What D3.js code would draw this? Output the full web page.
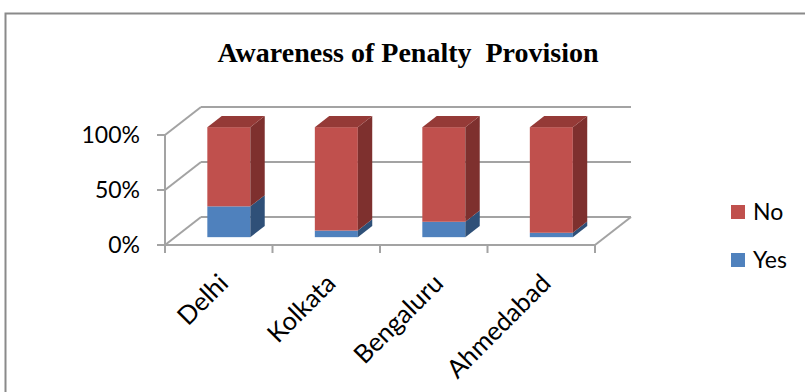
<!DOCTYPE html>
<html><head><meta charset="utf-8">
<script src="https://cdn.jsdelivr.net/npm/d3@7"></script>
<style>body{margin:0;background:#fff}svg{display:block}</style>
</head><body>
<script>
const categories = ["Delhi", "Kolkata", "Bengaluru", "Ahmedabad"];
const yesValues = [28, 6, 14, 4];
const noValues = [72, 94, 86, 96];
const yTicks = [0, 50, 100];
const tickLabels = ["0%", "50%", "100%"];
const seriesNames = ["No", "Yes"];
const title = "Awareness of Penalty  Provision";

const W = 805, H = 392;
const svg = d3.select("body").append("svg").attr("width", W).attr("height", H);

// chart border
svg.append("rect").attr("x", 5.5).attr("y", 13.5).attr("width", 820).attr("height", 400)
  .attr("fill", "none").attr("stroke", "#8a8a8a").attr("stroke-width", 2);

svg.append("text").attr("x", 408).attr("y", 62).attr("text-anchor", "middle")
  .style("white-space", "pre")
  .attr("font-family", "Liberation Serif").attr("font-weight", "bold").attr("font-size", 28)
  .attr("fill", "#000").text(title);

const x0 = 165, x1 = 595;
const x = d3.scaleBand().domain(categories).range([x0, x1]).paddingInner(0.6).paddingOuter(0.3);
const y = d3.scaleLinear().domain([0, 100]).range([245, 135]);
const DX = 36, DY = -28;
const z0 = 0.28, z1 = 0.68;
const grid = "#a3a3a3";

const g = svg.append("g");
// back wall gridlines and left wall
yTicks.forEach(t => {
  g.append("line").attr("x1", x0 + DX).attr("x2", x1 + DX).attr("y1", y(t) + DY).attr("y2", y(t) + DY)
    .attr("stroke", grid).attr("stroke-width", 2);
  g.append("line").attr("x1", x0).attr("x2", x0 + DX).attr("y1", y(t)).attr("y2", y(t) + DY)
    .attr("stroke", grid).attr("stroke-width", 2);
});
// floor front & right edges
g.append("line").attr("x1", x0).attr("x2", x1).attr("y1", y(0)).attr("y2", y(0)).attr("stroke", grid).attr("stroke-width", 2);
g.append("line").attr("x1", x1).attr("x2", x1 + DX).attr("y1", y(0)).attr("y2", y(0) + DY).attr("stroke", grid).attr("stroke-width", 2);
// left axis
g.append("line").attr("x1", x0).attr("x2", x0).attr("y1", y(100)).attr("y2", y(0)).attr("stroke", grid).attr("stroke-width", 2);
yTicks.forEach((t, i) => {
  g.append("line").attr("x1", x0 - 8).attr("x2", x0).attr("y1", y(t)).attr("y2", y(t)).attr("stroke", grid).attr("stroke-width", 2);
  g.append("text").attr("x", 140).attr("y", y(t)).attr("dy", "0.36em").attr("text-anchor", "end")
    .attr("font-family", "Lato").attr("font-size", 23).attr("fill", "#000").text(tickLabels[i]);
});
// x ticks
const step = x.step();
for (let i = 0; i <= categories.length; i++) {
  const tx = x0 + i * step;
  g.append("line").attr("x1", tx).attr("x2", tx).attr("y1", y(0)).attr("y2", y(0) + 8).attr("stroke", grid).attr("stroke-width", 2);
}
categories.forEach((c, i) => {
  const px = x0 + i * step + step / 2 + 11;
  g.append("text").attr("transform", `translate(${px},285) rotate(-45)`).attr("text-anchor", "end")
    .attr("font-family", "Lato").attr("font-size", 25.5).attr("fill", "#000").text(c);
});

// bars
const colors = {
  Yes: { front: "#4F81BD", side: "#2F5078", top: "#3E6699" },
  No: { front: "#C0504D", side: "#7E302E", top: "#953A37" }
};
const fx = DX * z0, fy = DY * z0;
const dDX = DX * (z1 - z0), dDY = DY * (z1 - z0);
const poly = pts => pts.map(p => p.join(",")).join(" ");
categories.forEach((c, i) => {
  const segs = [
    { name: "Yes", lo: 0, hi: yesValues[i] },
    { name: "No", lo: yesValues[i], hi: yesValues[i] + noValues[i] }
  ];
  const xl = x(c) + fx, xr = x(c) + x.bandwidth() + fx;
  segs.forEach((s, k) => {
    const yb = y(s.lo) + fy, yt = y(s.hi) + fy;
    const col = colors[s.name];
    g.append("rect").attr("x", xl).attr("y", yt).attr("width", xr - xl).attr("height", yb - yt).attr("fill", col.front);
    g.append("polygon").attr("points", poly([[xr, yb], [xr + dDX, yb + dDY], [xr + dDX, yt + dDY], [xr, yt]])).attr("fill", col.side);
    if (k === segs.length - 1) {
      g.append("polygon").attr("points", poly([[xl, yt], [xr, yt], [xr + dDX, yt + dDY], [xl + dDX, yt + dDY]])).attr("fill", col.top);
    }
  });
});

// legend
const legendColors = { No: colors.No.front, Yes: colors.Yes.front };
seriesNames.forEach((n, i) => {
  const ly = 205 + i * 48;
  svg.append("rect").attr("x", 731).attr("y", ly).attr("width", 14).attr("height", 14).attr("fill", legendColors[n]);
  svg.append("text").attr("x", 753).attr("y", ly + 14.5).attr("font-family", "Lato").attr("font-size", 23)
    .attr("fill", "#000").text(n);
});
</script>
</body></html>
